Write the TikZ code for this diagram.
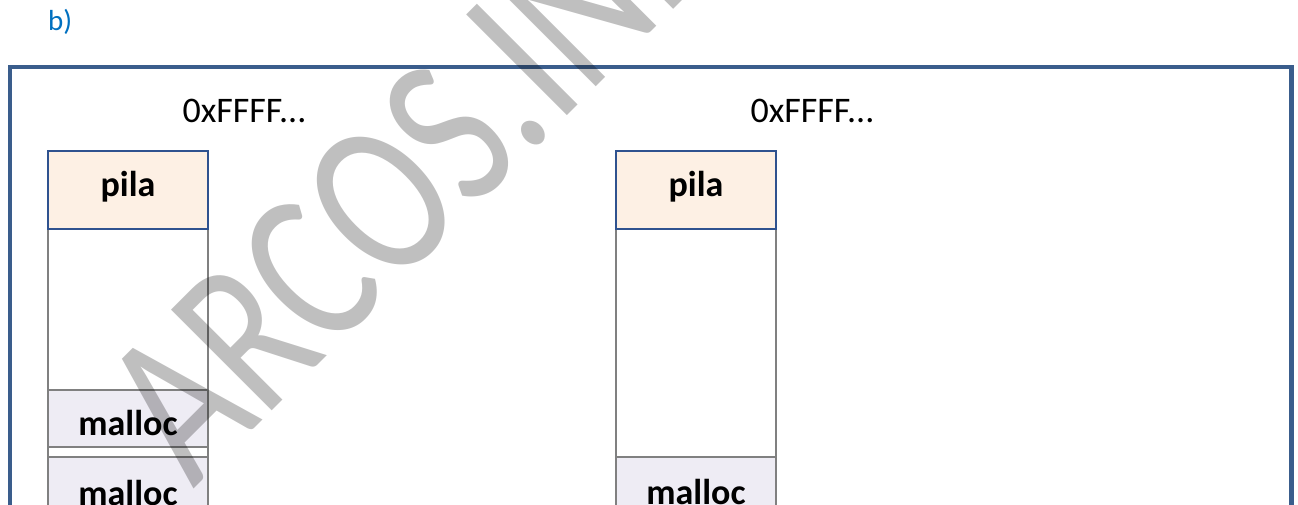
\documentclass[tikz,border=0pt]{standalone}
\usepackage{fontspec}
\setmainfont{Carlito}
\usepackage{graphicx}
\definecolor{frameblue}{HTML}{3A5D8C}
\definecolor{labelblue}{HTML}{0070C0}
\definecolor{pilafill}{HTML}{FDF0E4}
\definecolor{pilaline}{HTML}{2F528F}
\definecolor{mallocfill}{HTML}{EEECF4}
\definecolor{cellline}{HTML}{808080}
\begin{document}
\begin{tikzpicture}[x=1pt,y=-1pt,
  cell/.style={draw=cellline, line width=2pt, fill=white, minimum width=160pt,
               inner sep=0pt, anchor=north west},
  pilabox/.style={cell, draw=pilaline, fill=pilafill, minimum height=78pt,
                  text height=45pt, text depth=33pt,
                  font=\fontsize{36}{40}\selectfont\bfseries},
  mallocbox/.style={cell, fill=mallocfill,
                  font=\fontsize{36}{40}\selectfont\bfseries},
  addr/.style={anchor=base, inner sep=0pt, font=\fontsize{36}{40}\selectfont},
  wm/.style={anchor=base west, inner sep=0pt, rotate=45, text=black,
             text opacity=0.25, font=\fontsize{222}{222}\selectfont}]
\useasboundingbox (0,0) rectangle (1298,504);
\clip (0,0) rectangle (1298,504);
\fill[white] (0,0) rectangle (1298,504);

% part label
\node[anchor=base west, inner sep=0pt, text=labelblue,
      font=\fontsize{29}{32}\selectfont] (part) at (48,30) {b)};

% enclosing frame
\draw[frameblue, line width=4.5pt] (10,67) rectangle (1291.5,560);

% left memory map
\node[cell, minimum height=228pt] (lfree) at (47,228) {};
\node[pilabox] (lpila) at (47,150) {pila};
\node[mallocbox, minimum height=57pt, text height=45pt, text depth=12pt]
     (lmalloca) at (47,389) {malloc};
\node[mallocbox, minimum height=74pt, text height=48pt, text depth=26pt]
     (lmallocb) at (47,456) {malloc};
\node[addr] (laddr) at (244.5,122) {0xFFFF...};

% right memory map
\node[cell, minimum height=228pt] (rfree) at (615,228) {};
\node[pilabox] (rpila) at (615,150) {pila};
\node[mallocbox, minimum height=74pt, text height=47pt, text depth=27pt]
     (rmalloc) at (615,456) {malloc};
\node[addr] (raddr) at (812.5,122) {0xFFFF...};

% watermark
\node[wm] (mark) at (193,490) {\scalebox{0.77}[1]{ARCOS.INF}};
\end{tikzpicture}
\end{document}
